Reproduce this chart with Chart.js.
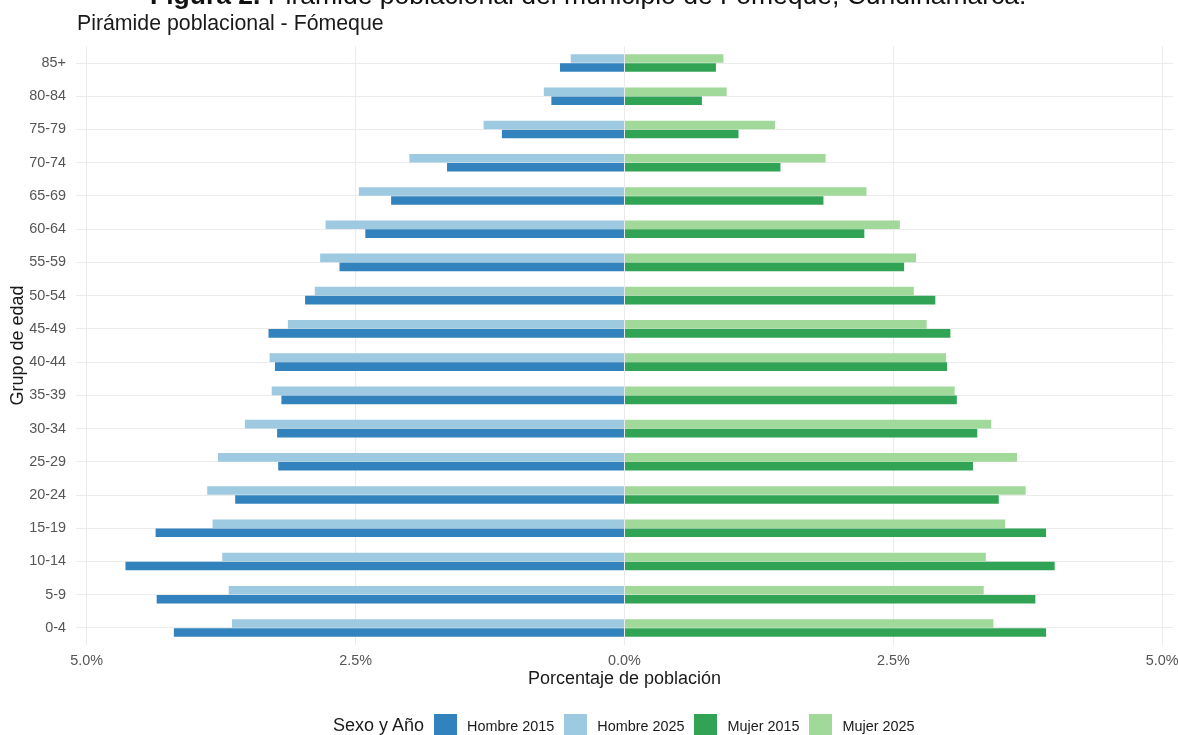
<!DOCTYPE html>
<html lang="es">
<head>
<meta charset="utf-8">
<title>Pirámide poblacional - Fómeque</title>
<script src="https://cdn.jsdelivr.net/npm/chart.js@4.4.1/dist/chart.umd.min.js"></script>
<style>
  html, body { margin: 0; padding: 0; background: #ffffff; }
  body { width: 1178px; height: 735px; position: relative; overflow: hidden;
         font-family: "Liberation Sans", Arial, Helvetica, sans-serif; }
  #wrap { position: absolute; left: 0; top: 0; width: 1178px; height: 735px; }
  #fig { position: absolute; left: 150px; top: -18.5px; font-size: 26.5px; line-height: 26.5px;
         color: #111; white-space: nowrap; }
  #fig b { font-weight: bold; }
  #sub { position: absolute; left: 77px; top: 12.5px; font-size: 21.3px; line-height: 21.3px;
         color: #1a1a1a; white-space: nowrap; }
  #legend { position: absolute; left: 333px; top: 714px; height: 23px; display: flex;
            align-items: center; white-space: nowrap; color: #1a1a1a; }
  #legend .ttl { font-size: 18px; margin-right: 10px; }
  #legend .sw { width: 23px; height: 23px; margin-right: 10px; flex: none; }
  #legend .lb { font-size: 14.4px; margin-right: 10px; }
</style>
</head>
<body>
<div id="wrap"><canvas id="c" width="1178" height="735"></canvas></div>
<div id="fig"><b>Figura 2.</b> Pirámide poblacional del municipio de Fómeque, Cundinamarca.</div>
<div id="sub">Pirámide poblacional - Fómeque</div>
<div id="legend"></div>
<script>
// Age groups, oldest at the top
const ageGroups = ['85+', '80-84', '75-79', '70-74', '65-69', '60-64', '55-59', '50-54', '45-49',
                   '40-44', '35-39', '30-34', '25-29', '20-24', '15-19', '10-14', '5-9', '0-4'];

// Share of total population (%), same order as ageGroups
const hombre2015 = [0.60, 0.68, 1.14, 1.65, 2.17, 2.41, 2.65, 2.97, 3.31,
                    3.25, 3.19, 3.23, 3.22, 3.62, 4.36, 4.64, 4.35, 4.19];
const hombre2025 = [0.50, 0.75, 1.31, 2.00, 2.47, 2.78, 2.83, 2.88, 3.13,
                    3.30, 3.28, 3.53, 3.78, 3.88, 3.83, 3.74, 3.68, 3.65];
const mujer2015  = [0.85, 0.72, 1.06, 1.45, 1.85, 2.23, 2.60, 2.89, 3.03,
                    3.00, 3.09, 3.28, 3.24, 3.48, 3.92, 4.00, 3.82, 3.92];
const mujer2025  = [0.92, 0.95, 1.40, 1.87, 2.25, 2.56, 2.71, 2.69, 2.81,
                    2.99, 3.07, 3.41, 3.65, 3.73, 3.54, 3.36, 3.34, 3.43];

// Axis ticks (%)
const xTicks = [-5, -2.5, 0, 2.5, 5];

const colors = {
  'Hombre 2015': '#3182bd',
  'Hombre 2025': '#9ecae1',
  'Mujer 2015':  '#31a354',
  'Mujer 2025':  '#a1d99b'
};
const legendOrder = ['Hombre 2015', 'Hombre 2025', 'Mujer 2015', 'Mujer 2025'];

function bars(label, values, sign, stack) {
  return {
    label, stack,
    data: values.map(v => sign * v),
    backgroundColor: colors[label],
    borderWidth: 0,
    categoryPercentage: 0.54,
    barPercentage: 0.96
  };
}

// 2025 stack first so it sits above 2015 in each age group
const datasets = [
  bars('Hombre 2025', hombre2025, -1, 'y2025'),
  bars('Mujer 2025',  mujer2025,   1, 'y2025'),
  bars('Hombre 2015', hombre2015, -1, 'y2015'),
  bars('Mujer 2015',  mujer2015,   1, 'y2015')
];

const gridColor = '#ebebeb';
const tickColor = '#555555';
const fontFamily = '"Liberation Sans", Arial, Helvetica, sans-serif';

new Chart(document.getElementById('c'), {
  type: 'bar',
  data: { labels: ageGroups, datasets },
  options: {
    indexAxis: 'y',
    responsive: false,
    animation: false,
    layout: { padding: { top: 46.4, left: 0, right: 5, bottom: 45.4 } },
    plugins: { legend: { display: false }, tooltip: { enabled: false }, title: { display: false } },
    scales: {
      x: {
        stacked: true,
        min: -5.1, max: 5.1,
        afterBuildTicks: s => { s.ticks = xTicks.map(v => ({ value: v })); },
        afterFit: s => { s.height = 45; s.paddingLeft = 0; s.paddingRight = 0; },
        grid: { color: gridColor, lineWidth: 1, drawTicks: false },
        border: { display: false },
        ticks: {
          color: tickColor, padding: 8, maxRotation: 0,
          font: { family: fontFamily, size: 14.4 },
          callback: v => Math.abs(v).toFixed(1) + '%'
        },
        title: {
          display: true, text: 'Porcentaje de población', color: '#1a1a1a',
          font: { family: fontFamily, size: 18 }, padding: { top: 0, bottom: 0 }
        }
      },
      y: {
        afterFit: s => { s.width = 76; },
        grid: { color: gridColor, lineWidth: 1, drawTicks: false, offset: false },
        border: { display: false },
        ticks: { color: tickColor, padding: 10, font: { family: fontFamily, size: 14.4 } },
        title: {
          display: true, text: 'Grupo de edad', color: '#1a1a1a',
          font: { family: fontFamily, size: 18 }, padding: { top: 7, bottom: 0 }
        }
      }
    }
  }
});

// Legend
const lg = document.getElementById('legend');
const t = document.createElement('span');
t.className = 'ttl'; t.textContent = 'Sexo y Año';
lg.appendChild(t);
legendOrder.forEach(name => {
  const sw = document.createElement('span');
  sw.className = 'sw'; sw.style.background = colors[name];
  const lb = document.createElement('span');
  lb.className = 'lb'; lb.textContent = name;
  lg.appendChild(sw); lg.appendChild(lb);
});
</script>
</body>
</html>
